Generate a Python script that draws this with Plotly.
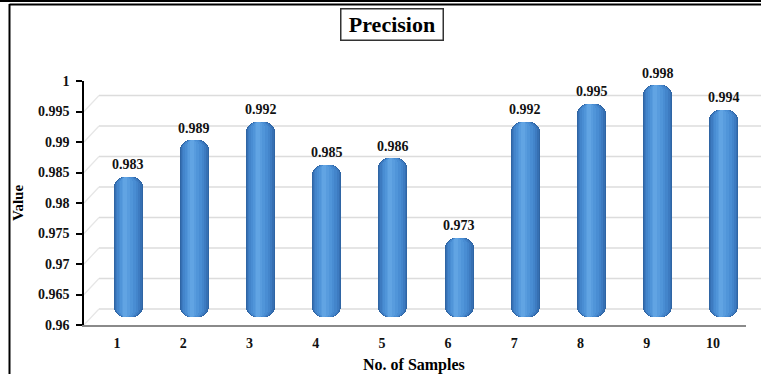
import plotly.graph_objects as go

# ---- data ----
samples = [1, 2, 3, 4, 5, 6, 7, 8, 9, 10]
sample_labels = ["1", "2", "3", "4", "5", "6", "7", "8", "9", "10"]
precision = [0.983, 0.989, 0.992, 0.985, 0.986, 0.973, 0.992, 0.995, 0.998, 0.994]
value_labels = ["0.983", "0.989", "0.992", "0.985", "0.986", "0.973", "0.992", "0.995", "0.998", "0.994"]
y_ticks = [0.96, 0.965, 0.97, 0.975, 0.98, 0.985, 0.99, 0.995, 1.0]
y_tick_labels = ["0.96", "0.965", "0.97", "0.975", "0.98", "0.985", "0.99", "0.995", "1"]

# ---- layout geometry (pixels) ----
W, H = 761, 374
ML, MR, MT, MB = 84, 15, 81, 49
PW, PH = W - ML - MR, H - MT - MB
Y0, Y1 = 0.96, 1.0
X0, X1 = 0.5, 10.5
DEPTH_BAR_X, DEPTH_BAR_Y = 11, 8      # bars sit a bit "behind" the front axis
DEPTH_WALL_X, DEPTH_WALL_Y = 15, 16   # back wall offset

def px_x(p):
    return (p - ML) / PW

def px_y(p):
    return (H - MB - p) / PH

sx = DEPTH_BAR_X / PW * (X1 - X0)
sy = DEPTH_BAR_Y / PH * (Y1 - Y0)

SERIF = "Liberation Serif, Times New Roman, serif"

fig = go.Figure()

# invisible trace to anchor the front axes
fig.add_trace(go.Scatter(x=samples, y=precision, mode="markers",
                         marker=dict(opacity=0), hoverinfo="skip",
                         showlegend=False, xaxis="x", yaxis="y"))

# cylinder-like bars built from layered bars (dark edges -> light centre)
layers = [
    (0.44, "#2f65a4", 10, 0.0),
    (0.41, "#3670b3", 10, 0.0),
    (0.37, "#3d7bc1", 9, -0.005),
    (0.32, "#4385cb", 8, -0.01),
    (0.26, "#498dd3", 7, -0.015),
    (0.19, "#5095d9", 6, -0.02),
    (0.12, "#589cde", 4, -0.03),
    (0.06, "#61a4e3", 2, -0.04),
]
for w, col, cr, shift in layers:
    fig.add_trace(go.Bar(
        x=samples, y=[v - Y0 for v in precision], base=Y0,
        width=w, offset=-w / 2 + shift,
        marker=dict(color=col, line=dict(width=0), cornerradius=cr),
        xaxis="x2", yaxis="y2", showlegend=False, hoverinfo="skip",
    ))

shapes = []
# back-wall gridlines and depth lines
for v in y_ticks:
    shapes.append(dict(type="line", xref="paper", yref="y", layer="below",
                       x0=px_x(ML + DEPTH_WALL_X), x1=px_x(W),
                       ysizemode="pixel", yanchor=v, y0=DEPTH_WALL_Y, y1=DEPTH_WALL_Y,
                       line=dict(color="#dcdcdc", width=1.5)))
    shapes.append(dict(type="line", xref="paper", yref="y", layer="below",
                       xsizemode="pixel", xanchor=0, x0=0, x1=DEPTH_WALL_X,
                       ysizemode="pixel", yanchor=v, y0=0, y1=DEPTH_WALL_Y,
                       line=dict(color="#e6e6e6", width=1.2)))
# outer frame (top double line + left line)
shapes.append(dict(type="line", xref="paper", yref="paper",
                   x0=px_x(0), x1=px_x(W), y0=px_y(1), y1=px_y(1),
                   line=dict(color="black", width=2)))
shapes.append(dict(type="line", xref="paper", yref="paper",
                   x0=px_x(9.5), x1=px_x(W), y0=px_y(4.5), y1=px_y(4.5),
                   line=dict(color="black", width=2)))
shapes.append(dict(type="line", xref="paper", yref="paper",
                   x0=px_x(9.5), x1=px_x(9.5), y0=px_y(4), y1=px_y(H),
                   line=dict(color="black", width=2)))

annotations = []
for x, v, t in zip(samples, precision, value_labels):
    annotations.append(dict(x=x, y=v, xref="x2", yref="y2", text=t,
                            showarrow=False, yanchor="middle", yshift=12,
                            font=dict(family=SERIF, size=14, color="#111", weight="bold")))
# title box
annotations.append(dict(x=px_x(392), y=px_y(25), xref="paper", yref="paper",
                        text="Precision", showarrow=False,
                        xanchor="center", yanchor="middle",
                        width=97, height=26, borderpad=2,
                        bordercolor="#333", borderwidth=1.5, bgcolor="white",
                        font=dict(family=SERIF, size=22, color="black", weight="bold")))
# axis titles
annotations.append(dict(x=px_x(18), y=px_y(203), xref="paper", yref="paper",
                        text="Value", textangle=-90, showarrow=False,
                        xanchor="center", yanchor="middle",
                        font=dict(family=SERIF, size=15, color="black", weight="bold")))
annotations.append(dict(x=px_x(414), y=px_y(365), xref="paper", yref="paper",
                        text="No. of Samples", showarrow=False,
                        xanchor="center", yanchor="middle",
                        font=dict(family=SERIF, size=16, color="black", weight="bold")))

fig.update_layout(
    width=W, height=H,
    margin=dict(l=ML, r=MR, t=MT, b=MB),
    paper_bgcolor="white", plot_bgcolor="rgba(0,0,0,0)",
    barmode="overlay", bargap=0,
    showlegend=False,
    shapes=shapes, annotations=annotations,
    xaxis=dict(range=[X0, X1], tickvals=samples, ticktext=sample_labels,
               showgrid=False, zeroline=False, showline=True,
               linecolor="#8a8a8a", linewidth=2, ticks="",
               ticklabelstandoff=4,
               tickfont=dict(family=SERIF, size=14, color="#111", weight="bold")),
    yaxis=dict(range=[Y0, Y1], tickvals=y_ticks, ticktext=y_tick_labels,
               showgrid=False, zeroline=False, showline=True,
               linecolor="black", linewidth=1.5, ticks="outside",
               ticklen=6, tickwidth=1.5, tickcolor="black",
               ticklabelstandoff=4,
               tickfont=dict(family=SERIF, size=14, color="#111", weight="bold")),
    xaxis2=dict(range=[X0 - sx, X1 - sx], overlaying="x", visible=False),
    yaxis2=dict(range=[Y0 - sy, Y1 - sy], overlaying="y", visible=False),
)

fig.write_html("out.html")
